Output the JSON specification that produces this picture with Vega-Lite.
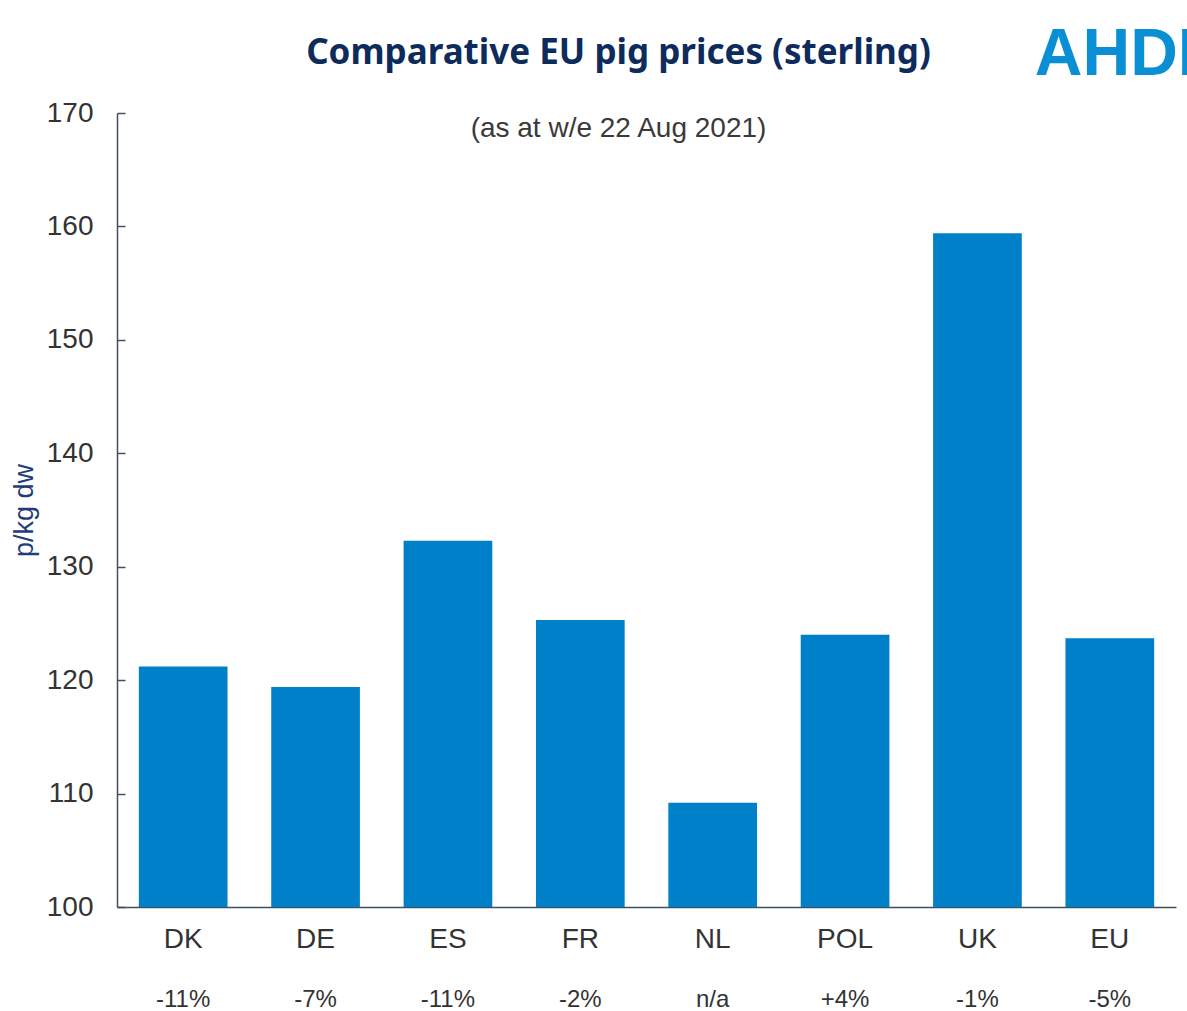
{
  "$schema": "https://vega.github.io/schema/vega-lite/v6.json",
  "autosize": "none",
  "width": 1059,
  "height": 794,
  "padding": {"left": 117, "top": 113, "right": 11, "bottom": 104},
  "background": "white",
  "config": {"view": {"stroke": null}, "font": "Liberation Sans"},
  "title": {
    "text": "Comparative  EU pig prices (sterling)",
    "subtitle": "(as at w/e 22 Aug 2021)",
    "font": "Noto Sans",
    "fontSize": 35,
    "fontWeight": "bold",
    "color": "#0d2b5b",
    "subtitleFont": "Liberation Sans",
    "subtitleFontSize": 28,
    "subtitleColor": "#3a3a3a",
    "subtitlePadding": 44,
    "anchor": "middle",
    "dx": -28,
    "offset": -121
  },
  "data": {
    "values": [
      {"country": "DK", "price": 121.2, "change": "-11%"},
      {"country": "DE", "price": 119.4, "change": "-7%"},
      {"country": "ES", "price": 132.3, "change": "-11%"},
      {"country": "FR", "price": 125.3, "change": "-2%"},
      {"country": "NL", "price": 109.2, "change": "n/a"},
      {"country": "POL", "price": 124.0, "change": "+4%"},
      {"country": "UK", "price": 159.4, "change": "-1%"},
      {"country": "EU", "price": 123.7, "change": "-5%"}
    ]
  },
  "encoding": {
    "x": {
      "field": "country",
      "type": "nominal",
      "sort": null,
      "scale": {"paddingInner": 0.33, "paddingOuter": 0.165},
      "axis": {
        "title": null,
        "labelAngle": 0,
        "labelFontSize": 28,
        "labelColor": "#333333",
        "labelPadding": 18,
        "ticks": false,
        "domainColor": "#3d5060",
        "domainWidth": 1.5
      }
    }
  },
  "layer": [
    {
      "mark": {"type": "bar", "color": "#0080c8"},
      "encoding": {
        "y": {
          "field": "price",
          "type": "quantitative",
          "scale": {"domain": [100, 170], "zero": false, "nice": false},
          "axis": {
            "title": "p/kg dw",
            "titleFontSize": 27,
            "titleFontWeight": "normal",
            "titleColor": "#1f3d7a",
            "titlePadding": 8,
            "values": [100, 110, 120, 130, 140, 150, 160, 170],
            "labelFontSize": 28,
            "labelColor": "#333333",
            "labelPadding": 32,
            "tickSize": -8,
            "tickColor": "#3d5060",
            "tickWidth": 1.5,
            "domainColor": "#3d5060",
            "domainWidth": 1.5,
            "grid": false
          }
        },
        "y2": {"datum": 100}
      }
    },
    {
      "mark": {"type": "text", "fontSize": 24, "color": "#333333", "baseline": "middle", "dy": 93, "clip": false},
      "encoding": {
        "y": {"datum": 100, "type": "quantitative"},
        "text": {"field": "change"}
      }
    },
    {
      "data": {"values": [{"logo": "AHDB"}]},
      "mark": {"type": "text", "font": "Liberation Sans", "fontWeight": "bold", "fontSize": 66, "color": "#0a8fd4", "align": "left", "baseline": "alphabetic", "dx": -75, "dy": -38, "clip": false},
      "encoding": {
        "x": {"datum": "EU"},
        "y": {"datum": 170, "type": "quantitative"},
        "text": {"field": "logo"}
      }
    }
  ]
}
